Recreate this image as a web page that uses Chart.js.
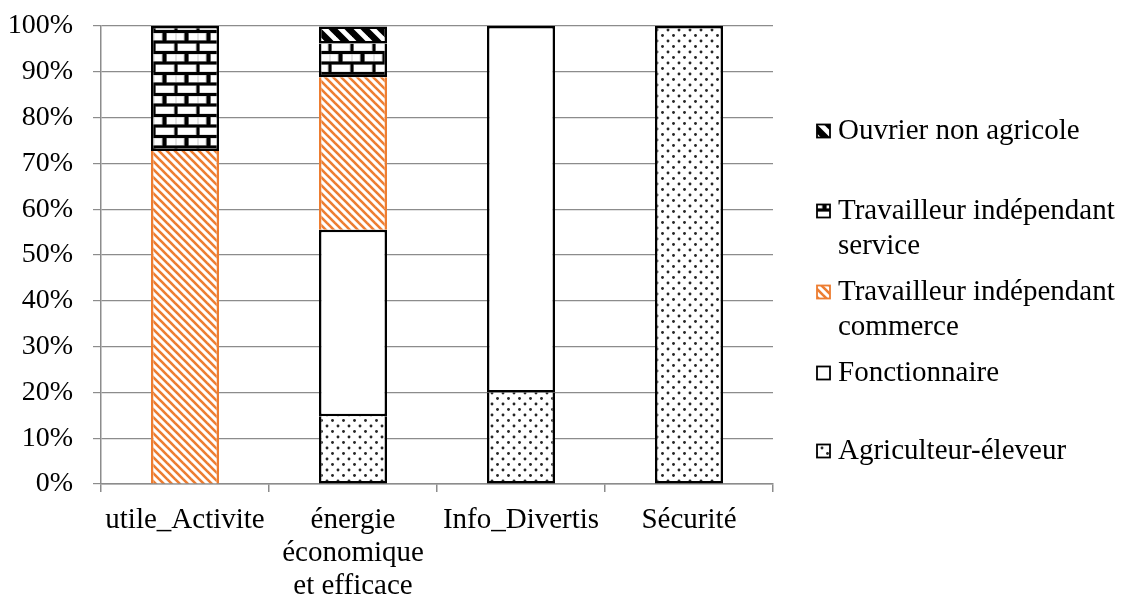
<!DOCTYPE html>
<html>
<head>
<meta charset="utf-8">
<script src="https://cdn.jsdelivr.net/npm/chart.js@4/dist/chart.umd.min.js"></script>
<style>
  html, body { margin: 0; background: #fff; }
  canvas { display: block; }
</style>
</head>
<body>
<canvas id="c" width="1123" height="594"></canvas>
<script>
// Categories (multi-line labels are arrays)
const categories = ['utile_Activite', ['énergie', 'économique', 'et efficace'], 'Info_Divertis', 'Sécurité'];

// Share of each profession per category (%); null = profession absent
const agriculteurEleveur = [null, 14.8, 20, 100];
const fonctionnaire      = [null, 40.7, 80, null];
const commerce           = [72.7, 33.3, null, null];
const service            = [27.3, 7.4, null, null];
const ouvrierNonAgricole = [null, 3.7, null, null];

// Value axis
const yTickValues = [0, 10, 20, 30, 40, 50, 60, 70, 80, 90, 100];

const FONT = '"Liberation Serif", "Times New Roman", serif';
const ctxMain = document.getElementById('c').getContext('2d');

function makePattern(w, h, draw) {
  const t = document.createElement('canvas');
  t.width = w; t.height = h;
  const g = t.getContext('2d');
  draw(g, w, h);
  return ctxMain.createPattern(t, 'repeat');
}

// Dotted fill
const dotPattern = makePattern(11, 11, (g, w, h) => {
  g.fillStyle = '#fff'; g.fillRect(0, 0, w, h);
  g.fillStyle = '#262626';
  [[2.5, 2.5], [8, 8]].forEach(([x, y]) => {
    g.beginPath(); g.arc(x, y, 1.45, 0, Math.PI * 2); g.fill();
  });
});

// Diagonal stripes
function stripes(period, width, color) {
  return makePattern(period, period, (g, w, h) => {
    g.fillStyle = '#fff'; g.fillRect(0, 0, w, h);
    g.strokeStyle = color; g.lineWidth = width;
    [-period, 0, period].forEach(c => {
      g.beginPath(); g.moveTo(-2, -2 + c); g.lineTo(period + 2, period + 2 + c); g.stroke();
    });
  });
}
const orangeStripes = stripes(8, 2.6, '#ED7D31');
const blackStripes = stripes(16, 6.5, '#000');

// Brick fill
const brickPattern = makePattern(22, 21, (g, w, h) => {
  g.fillStyle = '#000'; g.fillRect(0, 0, w, h);
  const brick = (x, y, bw) => {
    g.fillStyle = '#c8c8c8'; g.fillRect(x, y, bw, 7.5);
    g.fillStyle = '#fff'; g.fillRect(x + 0.5, y + 0.5, bw - 1.5, 6.5);
  };
  brick(1.5, 1.5, 19);
  brick(12.5, 12, 10);
  brick(0, 12, 8.5);
});

const BW = 2.5;

// A black-edged segment drops its top edge when another black-edged segment sits on it,
// so shared edges are drawn once
function skipSharedTop(c) {
  const sets = c.chart.data.datasets;
  for (let k = c.datasetIndex + 1; k < sets.length; k++) {
    if (sets[k].data[c.dataIndex] != null) return sets[k].sideOnly ? false : 'top';
  }
  return false;
}

const datasets = [
  { label: 'Agriculteur-éleveur', data: agriculteurEleveur, backgroundColor: dotPattern, borderColor: '#000' },
  { label: 'Fonctionnaire', data: fonctionnaire, backgroundColor: '#fff', borderColor: '#000' },
  { label: 'Travailleur indépendant commerce', data: commerce, backgroundColor: orangeStripes, borderColor: '#ED7D31', sideOnly: true },
  { label: 'Travailleur indépendant service', data: service, backgroundColor: brickPattern, borderColor: '#000' },
  { label: 'Ouvrier non agricole', data: ouvrierNonAgricole, backgroundColor: blackStripes, borderColor: '#000' }
].map(d => Object.assign(d, {
  borderWidth: d.sideOnly ? { left: BW, right: BW, top: 0, bottom: 0 } : BW,
  borderSkipped: d.sideOnly ? false : skipSharedTop,
  barPercentage: 0.405,
  categoryPercentage: 1
}));

// Legend on the right, drawn top-down in reverse stacking order
const legendPlugin = {
  id: 'sideLegend',
  afterDraw(chart) {
    const ctx = chart.ctx;
    const centers = [131, 211, 292, 373, 451];
    const lineH = 35, boxX = 817, boxS = 13, textX = 838, maxW = 284;
    ctx.save();
    ctx.font = '29px ' + FONT;
    ctx.textBaseline = 'middle';
    ctx.textAlign = 'left';
    const items = chart.data.datasets.slice().reverse();
    items.forEach((ds, i) => {
      const cy = centers[i];
      ctx.fillStyle = ds.backgroundColor;
      ctx.fillRect(boxX, cy - boxS / 2, boxS, boxS);
      ctx.strokeStyle = ds.borderColor;
      ctx.lineWidth = 1.8;
      ctx.strokeRect(boxX, cy - boxS / 2, boxS, boxS);
      // word wrap
      const words = ds.label.split(' ');
      const lines = [];
      let cur = '';
      words.forEach(wd => {
        const test = cur ? cur + ' ' + wd : wd;
        if (ctx.measureText(test).width > maxW && cur) { lines.push(cur); cur = wd; }
        else cur = test;
      });
      lines.push(cur);
      ctx.fillStyle = '#000';
      lines.forEach((ln, k) => ctx.fillText(ln, textX, cy + k * lineH));
    });
    ctx.restore();
  }
};

new Chart(ctxMain, {
  type: 'bar',
  data: { labels: categories, datasets },
  options: {
    responsive: false,
    animation: false,
    devicePixelRatio: 1,
    layout: { padding: { left: 0, top: 26, right: 350, bottom: 0 } },
    plugins: { legend: { display: false }, tooltip: { enabled: false } },
    scales: {
      x: {
        stacked: true,
        z: 1,
        afterFit(scale) { scale.height = 110; scale.paddingLeft = 0; scale.paddingRight = 0; },
        grid: { drawOnChartArea: false, offset: true, tickLength: 8, color: '#8c8c8c', lineWidth: 1.5 },
        border: { color: '#8c8c8c', width: 1.5 },
        ticks: { color: '#000', padding: 12, maxRotation: 0, autoSkip: false, font: { family: FONT, size: 29, lineHeight: 1.14 } }
      },
      y: {
        stacked: true,
        min: 0,
        max: 100,
        afterFit(scale) { scale.width = 101; scale.paddingTop = 0; scale.paddingBottom = 0; },
        afterBuildTicks(scale) { scale.ticks = yTickValues.map(v => ({ value: v })); },
        grid: { color: '#8c8c8c', lineWidth: 1.2, tickLength: 8 },
        border: { color: '#8c8c8c', width: 1.5 },
        ticks: { color: '#000', padding: 20, font: { family: FONT, size: 28 }, callback: v => v + '%' }
      }
    }
  },
  plugins: [legendPlugin]
});
</script>
</body>
</html>
